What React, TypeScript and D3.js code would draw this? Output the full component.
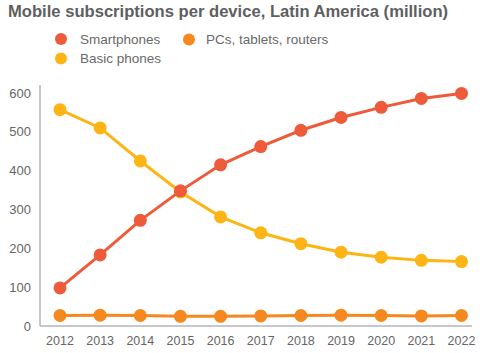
import * as d3 from 'd3';

const years = [2012, 2013, 2014, 2015, 2016, 2017, 2018, 2019, 2020, 2021, 2022];
const smartphones = [98, 183, 272, 348, 415, 462, 504, 537, 563, 586, 599];
const basicPhones = [557, 510, 425, 345, 281, 240, 212, 190, 177, 169, 166];
const pcsTablets = [27, 28, 27, 25, 25, 26, 27, 28, 27, 26, 27];
const yTicks = [0, 100, 200, 300, 400, 500, 600];

const series = [
  { name: 'Basic phones', values: basicPhones, color: '#FDB515' },
  { name: 'Smartphones', values: smartphones, color: '#EE5B3B' },
  { name: 'PCs, tablets, routers', values: pcsTablets, color: '#F5891F' },
];

const W = 497;
const H = 353;
const M = { top: 93, right: 25, bottom: 27, left: 40 };

export default function App() {
  const x = d3.scalePoint<number>().domain(years).range([60, 461.5]);
  const y = d3.scaleLinear().domain([0, 600]).range([H - M.bottom, M.top]);
  const line = d3.line<number>().x((_, i) => x(years[i])!).y(d => y(d));
  const font = 'Helvetica, Arial, "Liberation Sans", sans-serif';

  return (
    <div style={{ position: 'fixed', left: 0, top: 0 }}>
      <svg width={W} height={H} style={{ display: 'block', background: '#fff' }} fontFamily={font}>
        <text x={8} y={16.5} fontSize={16.6} fontWeight={600} fill="#5f5f5f">
          Mobile subscriptions per device, Latin America (million)
        </text>

        {/* legend */}
        <circle cx={61} cy={39} r={6} fill="#EE5B3B" />
        <text x={80} y={43.5} fontSize={13.5} fill="#6a6a6a">Smartphones</text>
        <circle cx={61} cy={58.5} r={6} fill="#FDB515" />
        <text x={80} y={63} fontSize={13.5} fill="#6a6a6a">Basic phones</text>
        <circle cx={189} cy={39.5} r={6} fill="#F5891F" />
        <text x={206} y={43.5} fontSize={13.5} fill="#6a6a6a">PCs, tablets, routers</text>

        {/* axes */}
        <line x1={M.left} x2={M.left} y1={85} y2={y(0)} stroke="#b5b5bd" strokeWidth={1.5} />
        <line x1={M.left} x2={472} y1={y(0)} y2={y(0)} stroke="#b5b5bd" strokeWidth={1.5} />
        {yTicks.map(t => (
          <text key={t} x={31} y={y(t) + 4.5} fontSize={13} fill="#666" textAnchor="end">{t}</text>
        ))}
        {years.map(yr => (
          <text key={yr} x={x(yr)} y={344.5} fontSize={12.5} fill="#666" textAnchor="middle">{yr}</text>
        ))}

        {series.map(s => (
          <g key={s.name}>
            <path d={line(s.values) ?? ''} fill="none" stroke={s.color} strokeWidth={3} />
            {s.values.map((v, i) => (
              <circle key={i} cx={x(years[i])} cy={y(v)} r={6.5} fill={s.color} />
            ))}
          </g>
        ))}
      </svg>
    </div>
  );
}
